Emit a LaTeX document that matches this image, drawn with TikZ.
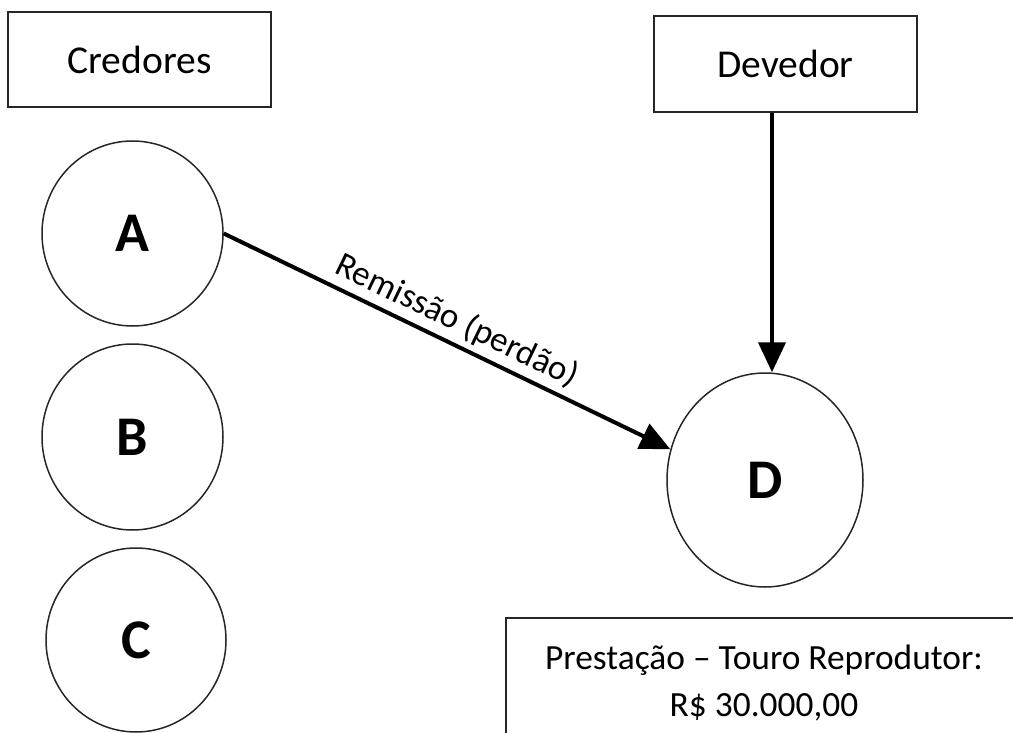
\documentclass[tikz,border=0pt]{standalone}
\usepackage{fontspec}
\setmainfont{Carlito}
\usetikzlibrary{arrows.meta,shapes.geometric}

\tikzset{
  labelbox/.style={draw=black!85, line width=1.5pt, inner sep=0pt,
    font=\fontsize{39.5}{46}\selectfont},
  party/.style={ellipse, draw=black!85, line width=1.5pt, inner sep=0pt,
    font=\fontsize{56}{60}\selectfont\bfseries},
  bigarrow/.style={line width=4pt, -{Triangle[width=27pt,length=30pt]}},
  note/.style={draw=black!85, line width=1.5pt, inner sep=0pt, align=center,
    font=\fontsize{35.4}{47}\selectfont},
}

\begin{document}
\begin{tikzpicture}[x=1pt, y=-1pt]
  \useasboundingbox (0,0) rectangle (1013,733);
  \clip (0,0) rectangle (1013,733);

  % titles
  \node[labelbox, minimum width=263pt, minimum height=95pt] (cred) at (139.5,59.5) {Credores};
  \node[labelbox, minimum width=263pt, minimum height=96pt] (dev) at (785.5,64) {Devedor};

  % creditors and debtor
  \node[party, minimum width=181pt, minimum height=185pt] (A) at (132.5,233.5) {A};
  \node[party, minimum width=181pt, minimum height=186pt] (B) at (132.5,437) {B};
  \node[party, minimum width=180pt, minimum height=184pt] (C) at (136,640) {C};
  \node[party, minimum width=196pt, minimum height=214pt] (D) at (765,480) {D};

  % obligation
  \node[note, minimum width=516pt, minimum height=130pt] (prest) at (764,683)
    {Prestação – Touro Reprodutor:\\R\$ 30.000,00};

  % connectors
  \draw[bigarrow] (A.east) -- node[sloped, above, pos=0.5, inner sep=5pt,
    font=\fontsize{35}{40}\selectfont] {Remissão (perdão)} (D.162);
  \coordinate (devout) at ([xshift=-13.5pt]dev.south);
  \draw[bigarrow] (devout) -- (devout |- D.north);
\end{tikzpicture}
\end{document}
